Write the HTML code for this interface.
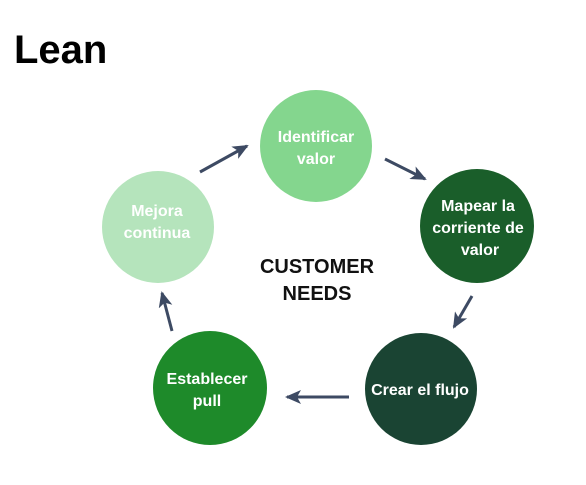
<!DOCTYPE html>
<html><head><meta charset="utf-8"><style>
body{margin:0;background:#fff;width:586px;height:480px;overflow:hidden;font-family:"Liberation Sans",sans-serif}
</style></head><body>
<svg width="586" height="480" viewBox="0 0 586 480" xmlns="http://www.w3.org/2000/svg" font-family="Liberation Sans, sans-serif" font-weight="bold">
<defs><marker id="a" markerWidth="10" markerHeight="10" refX="8" refY="5" orient="auto" markerUnits="userSpaceOnUse" viewBox="0 0 10 10"><path d="M0,0 L10,5 L0,10 L3,5 Z" fill="#3d4a63"/></marker>
<marker id="b" markerWidth="16" markerHeight="14" refX="14" refY="7" orient="auto" markerUnits="userSpaceOnUse" viewBox="0 0 16 14"><path d="M0,0 L16,7 L0,14 L4,7 Z" fill="#3d4a63"/></marker></defs>
<text x="14" y="63" font-size="40" fill="#000">Lean</text>
<circle cx="316" cy="146" r="56" fill="#84d68e"/>
<circle cx="477" cy="226" r="57" fill="#1a5e2a"/>
<circle cx="421" cy="389" r="56" fill="#1a4433"/>
<circle cx="210" cy="388" r="57" fill="#1e8a2a"/>
<circle cx="158" cy="227" r="56" fill="#b5e4bc"/>
<g stroke="#3d4a63" stroke-width="3" fill="none">
<line x1="200" y1="172" x2="247" y2="146" marker-end="url(#b)"/>
<line x1="385" y1="159" x2="425" y2="179" marker-end="url(#b)"/>
<line x1="472" y1="296" x2="454" y2="327" marker-end="url(#b)"/>
<line x1="349" y1="397" x2="287" y2="397" marker-end="url(#b)"/>
<line x1="172" y1="331" x2="162" y2="293" marker-end="url(#b)"/>
</g>
<g fill="#fff" font-size="16" text-anchor="middle">
<text x="316" y="142">Identificar</text><text x="316" y="164">valor</text>
<text x="478" y="211">Mapear la</text><text x="478" y="233">corriente de</text><text x="480" y="255">valor</text>
<text x="420" y="395">Crear el flujo</text>
<text x="207" y="384">Establecer</text><text x="207" y="406">pull</text>
<text x="157" y="216">Mejora</text><text x="157" y="238">continua</text>
</g>
<g fill="#111" font-size="20" text-anchor="middle">
<text x="317" y="273">CUSTOMER</text><text x="317" y="300">NEEDS</text>
</g>
</svg>
</body></html>
